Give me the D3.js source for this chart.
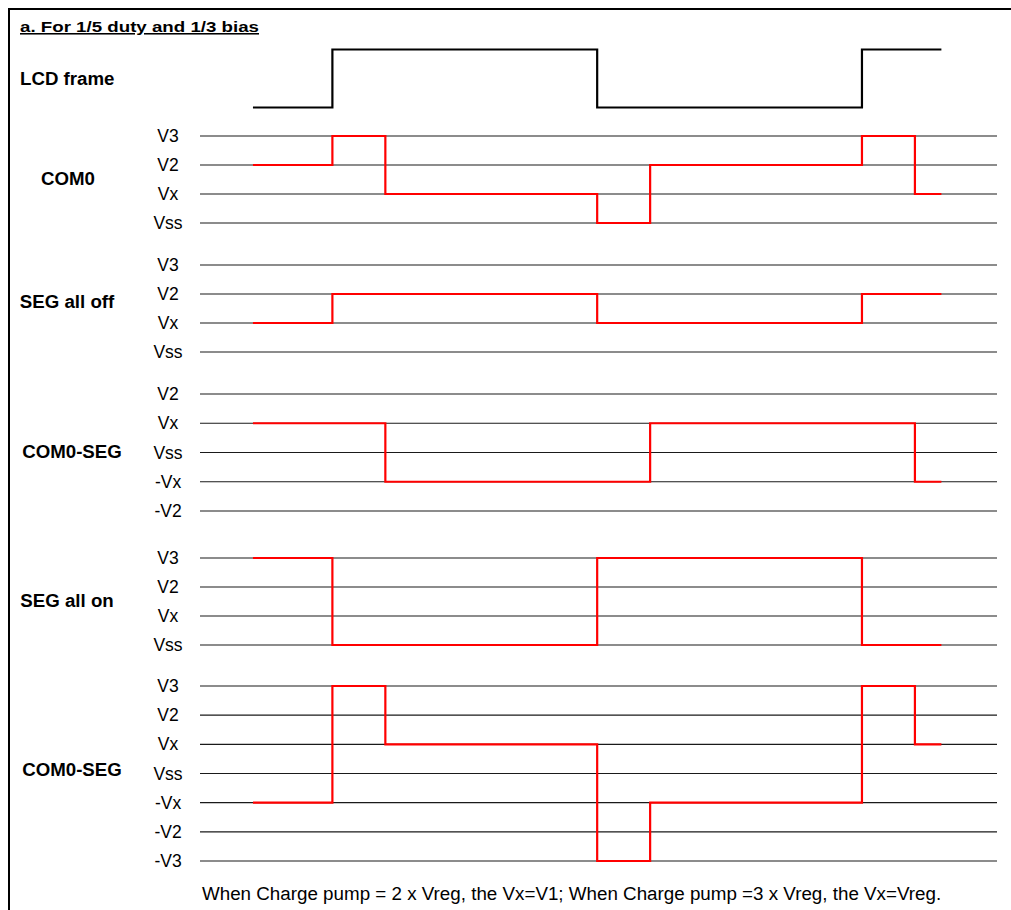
<!DOCTYPE html>
<html>
<head>
<meta charset="utf-8">
<script src="https://cdn.jsdelivr.net/npm/d3@7"></script>
<style>
  html, body { margin: 0; padding: 0; background: #fff; }
  svg { display: block; }
  text { font-family: "Liberation Sans", Arial, sans-serif; fill: #000; }
</style>
</head>
<body>
<svg id="chart" width="1011" height="910"></svg>
<script>
// Segment boundaries in COM time slots (one frame = 5 slots)
const segStart = [-1.5, 0, 1, 5, 6, 10, 11];
const segEnd = 11.5;

// Voltage level names per trace
const frameLevels = ["high", "low"];
const comLevels   = ["V3", "V2", "Vx", "Vss"];
const segLevels   = ["V3", "V2", "Vx", "Vss"];
const diffLevels1 = ["V2", "Vx", "Vss", "-Vx", "-V2"];
const diffLevels2 = ["V3", "V2", "Vx", "Vss", "-Vx", "-V2", "-V3"];

// Level held during each segment
const lcdFrame  = ["low", "high", "high", "low", "low", "high", "high"];
const com0      = ["V2", "V3", "Vx", "Vss", "V2", "V3", "Vx"];
const segAllOff = ["Vx", "V2", "V2", "Vx", "Vx", "V2", "V2"];
const diffOff   = ["Vx", "Vx", "-Vx", "-Vx", "Vx", "Vx", "-Vx"];
const segAllOn  = ["V3", "Vss", "Vss", "V3", "V3", "Vss", "Vss"];
const diffOn    = ["-Vx", "V3", "Vx", "-V3", "-Vx", "V3", "Vx"];

const title = "a. For 1/5 duty and 1/3 bias";
const note = "When Charge pump = 2 x Vreg, the Vx=V1; When Charge pump =3 x Vreg, the Vx=Vreg.";

const svg = d3.select("#chart");

// frame border (top and left)
svg.append("line").attr("x1", 8).attr("x2", 1011).attr("y1", 9).attr("y2", 9)
  .attr("stroke", "#000").attr("stroke-width", 2);
svg.append("line").attr("x1", 9).attr("x2", 9).attr("y1", 8).attr("y2", 910)
  .attr("stroke", "#000").attr("stroke-width", 2);

svg.append("text").attr("x", 20).attr("y", 32)
  .attr("font-size", 15.5).attr("font-weight", "bold")
  .attr("text-decoration", "underline")
  .attr("textLength", 239).attr("lengthAdjust", "spacingAndGlyphs")
  .text(title);

const x = d3.scaleLinear().domain([-2.5, 12.55]).range([200, 997]);

const panels = [
  { name: "LCD frame",   levels: frameLevels, wave: lcdFrame,  range: [49.5, 107.5], grid: false, color: "#000", lx: 20, anchor: "start", ly: 0 },
  { name: "COM0",        levels: comLevels,   wave: com0,      range: [136, 223], grid: true, color: "#ff0000", lx: 68, anchor: "middle", ly: -1 },
  { name: "SEG all off", levels: segLevels,   wave: segAllOff, range: [265, 352], grid: true, color: "#ff0000", lx: 67, anchor: "middle", ly: -7 },
  { name: "COM0-SEG",    levels: diffLevels1, wave: diffOff,   range: [394, 511], grid: true, color: "#ff0000", lx: 72, anchor: "middle", ly: -1 },
  { name: "SEG all on",  levels: segLevels,   wave: segAllOn,  range: [558, 645], grid: true, color: "#ff0000", lx: 67, anchor: "middle", ly: -1 },
  { name: "COM0-SEG",    levels: diffLevels2, wave: diffOn,    range: [686, 861], grid: true, color: "#ff0000", lx: 72, anchor: "middle", ly: -4 }
];

panels.forEach(p => {
  const y = d3.scalePoint().domain(p.levels).range(p.range);
  const g = svg.append("g");

  if (p.grid) {
    g.selectAll("line.grid").data(p.levels).join("line")
      .attr("class", "grid")
      .attr("x1", x(-2.5)).attr("x2", x(12.55))
      .attr("y1", d => y(d)).attr("y2", d => y(d))
      .attr("stroke", "#1a1a1a").attr("stroke-width", 1.1);
    g.selectAll("text.lvl").data(p.levels).join("text")
      .attr("class", "lvl")
      .attr("x", 168).attr("y", d => y(d) + 6)
      .attr("text-anchor", "middle")
      .attr("font-size", 17.5)
      .text(d => d);
  }

  const pts = p.wave.map((lv, i) => [segStart[i], lv]);
  pts.push([segEnd, p.wave[p.wave.length - 1]]);

  const line = d3.line()
    .x(d => x(d[0]))
    .y(d => y(d[1]))
    .curve(d3.curveStepAfter);

  g.append("path").datum(pts)
    .attr("d", line)
    .attr("fill", "none")
    .attr("stroke", p.color)
    .attr("stroke-width", 2.2)
    .attr("stroke-linejoin", "miter");

  g.append("text")
    .attr("x", p.lx)
    .attr("y", (p.range[0] + p.range[1]) / 2 + 6.5 + p.ly)
    .attr("text-anchor", p.anchor)
    .attr("font-size", 18.7)
    .attr("font-weight", "bold")
    .text(p.name);
});

svg.append("text").attr("x", 202).attr("y", 899.5)
  .attr("font-size", 18.8)
  .text(note);
</script>
</body>
</html>
